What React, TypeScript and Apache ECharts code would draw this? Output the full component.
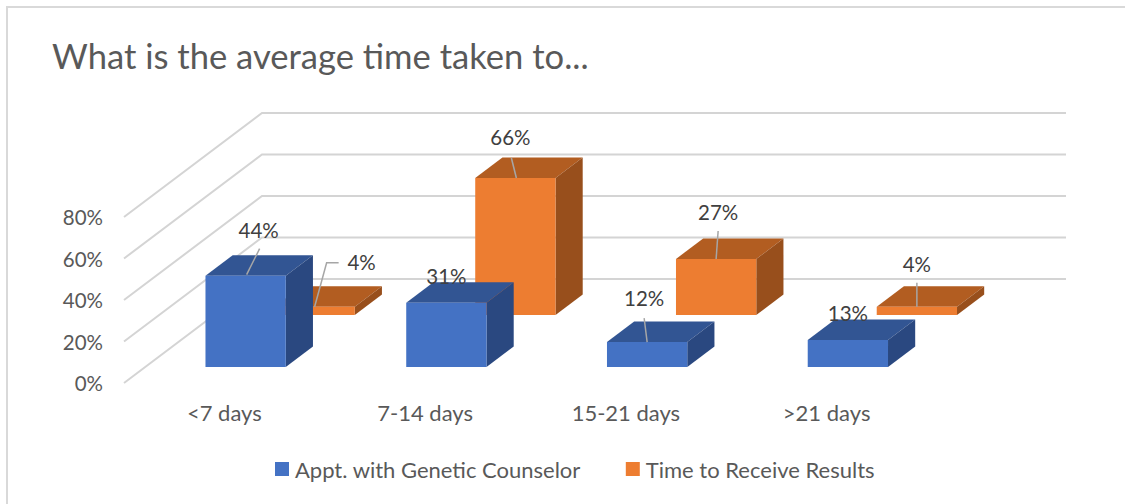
import React, { useEffect, useRef } from "react";
import * as echarts from "echarts";

const titleText = "What is the average time taken to...";
const categories = ["<7 days", "7-14 days", "15-21 days", ">21 days"];
const seriesNames = ["Appt. with Genetic Counselor", "Time to Receive Results"];
const counselorValues = [44, 31, 12, 13];
const resultsValues = [4, 66, 27, 4];
const gridValues = [0, 20, 40, 60, 80];

// 3D projection: one full unit of depth moves a point by this many pixels.
const DEPTH_X = 138;
const DEPTH_Y = -104;
const FONT = "Lato, Carlito, sans-serif";

// Label placement relative to the centre of the bar's front-top edge.
type Lab = { dx: number; dy: number; leader?: number[][] };
const counselorLabels: Lab[] = [
  { dx: 13, dy: -46, leader: [[1, -1], [14, -27]] },
  { dx: 0, dy: -27 },
  { dx: -3, dy: -44, leader: [[0, 0], [-3, -24]] },
  { dx: 0, dy: -27 },
];
const resultsLabels: Lab[] = [
  { dx: 47, dy: -45, leader: [[0, 0], [12, -44], [24, -44]] },
  { dx: -5, dy: -41, leader: [[1, 0], [-4, -20]] },
  { dx: 2, dy: -47, leader: [[0, 0], [2, -28]] },
  { dx: 0, dy: -43, leader: [[0, 0], [0, -24]] },
];

const makeBars = (
  name: string,
  values: number[],
  labels: Lab[],
  depthFront: number,
  depthBack: number,
  colors: { front: string; top: string; side: string },
  z: number,
) => ({
  type: "custom",
  name,
  z,
  clip: false,
  itemStyle: { color: colors.front },
  data: values.map((v, i) => [i, v]),
  renderItem: (params: any, api: any) => {
    const cat = api.value(0);
    const val = api.value(1);
    const half = api.size([1, 0])[0] * 0.2;
    const topPt = api.coord([cat, val]);
    const basePt = api.coord([cat, 0]);
    const cx = topPt[0] + depthFront * DEPTH_X;
    const yTop = topPt[1] + depthFront * DEPTH_Y;
    const yBase = basePt[1] + depthFront * DEPTH_Y;
    const dx = (depthBack - depthFront) * DEPTH_X;
    const dy = (depthBack - depthFront) * DEPTH_Y;
    const l = cx - half;
    const r = cx + half;
    const lab = labels[params.dataIndex];
    const children: any[] = [
      {
        type: "polygon",
        shape: { points: [[l, yTop], [l + dx, yTop + dy], [r + dx, yTop + dy], [r, yTop]] },
        style: { fill: colors.top },
      },
      {
        type: "polygon",
        shape: { points: [[r, yTop], [r + dx, yTop + dy], [r + dx, yBase + dy], [r, yBase]] },
        style: { fill: colors.side },
      },
      {
        type: "rect",
        shape: { x: l, y: yTop, width: r - l, height: yBase - yTop },
        style: { fill: colors.front },
      },
    ];
    if (lab.leader) {
      children.push({
        type: "polyline",
        shape: { points: lab.leader.map((p) => [cx + p[0], yTop + p[1]]) },
        style: { fill: "none", stroke: "#a6a6a6", lineWidth: 1.5 },
      });
    }
    children.push({
      type: "text",
      style: {
        text: val + "%",
        x: cx + lab.dx,
        y: yTop + lab.dy,
        align: "center",
        verticalAlign: "middle",
        fill: "#404040",
        font: `20.5px ${FONT}`,
      },
    });
    return { type: "group", children };
  },
});

const option = {
  animation: false,
  backgroundColor: "#ffffff",
  title: {
    text: titleText,
    left: 47,
    top: 33,
    textStyle: { color: "#595959", fontSize: 34.6, fontWeight: "normal", fontFamily: FONT },
  },
  legend: {
    left: 270,
    top: 453,
    icon: "rect",
    itemWidth: 14,
    itemHeight: 14,
    itemGap: 45,
    data: seriesNames,
    textStyle: { color: "#595959", fontSize: 22, fontFamily: FONT, padding: [0, 0, 0, 1] },
  },
  grid: { left: 124, top: 217, width: 803, height: 166 },
  xAxis: {
    type: "category",
    data: categories,
    axisLine: { show: false },
    axisTick: { show: false },
    axisLabel: { color: "#595959", fontSize: 22, fontFamily: FONT, margin: 18 },
  },
  yAxis: {
    type: "value",
    min: 0,
    max: 80,
    interval: 20,
    axisLine: { show: false },
    axisTick: { show: false },
    splitLine: { show: false },
    axisLabel: { color: "#595959", fontSize: 20.5, fontFamily: FONT, margin: 21, formatter: "{value}%" },
  },
  graphic: [
    {
      type: "polyline",
      shape: { points: [[7, 504], [7, 7], [1125, 7]] },
      style: { fill: "none", stroke: "#d9d9d9", lineWidth: 2 },
      silent: true,
    },
  ],
  series: [
    {
      type: "custom",
      name: "gridlines",
      z: 1,
      clip: false,
      silent: true,
      data: gridValues.map((v) => [0, v]),
      renderItem: (params: any, api: any) => {
        const y = api.coord([0, api.value(1)])[1];
        const x = params.coordSys.x;
        const w = params.coordSys.width;
        return {
          type: "polyline",
          shape: { points: [[x, y], [x + DEPTH_X, y + DEPTH_Y], [x + w + DEPTH_X + 1, y + DEPTH_Y]] },
          style: { fill: "none", stroke: "#d4d4d4", lineWidth: 2 },
        };
      },
    },
    makeBars(seriesNames[1], resultsValues, resultsLabels, 0.654, 0.851,
      { front: "#ED7D31", top: "#B25D21", side: "#984F1C" }, 2),
    makeBars(seriesNames[0], counselorValues, counselorLabels, 0.154, 0.351,
      { front: "#4472C4", top: "#325593", side: "#2A4880" }, 3),
  ],
};

export default function App() {
  const ref = useRef<HTMLDivElement>(null);
  useEffect(() => {
    document.body.style.margin = "0";
    const chart = echarts.init(ref.current!, undefined, { renderer: "svg" });
    chart.setOption(option as any);
    return () => chart.dispose();
  }, []);
  return <div ref={ref} style={{ width: 1125, height: 504 }} />;
}
